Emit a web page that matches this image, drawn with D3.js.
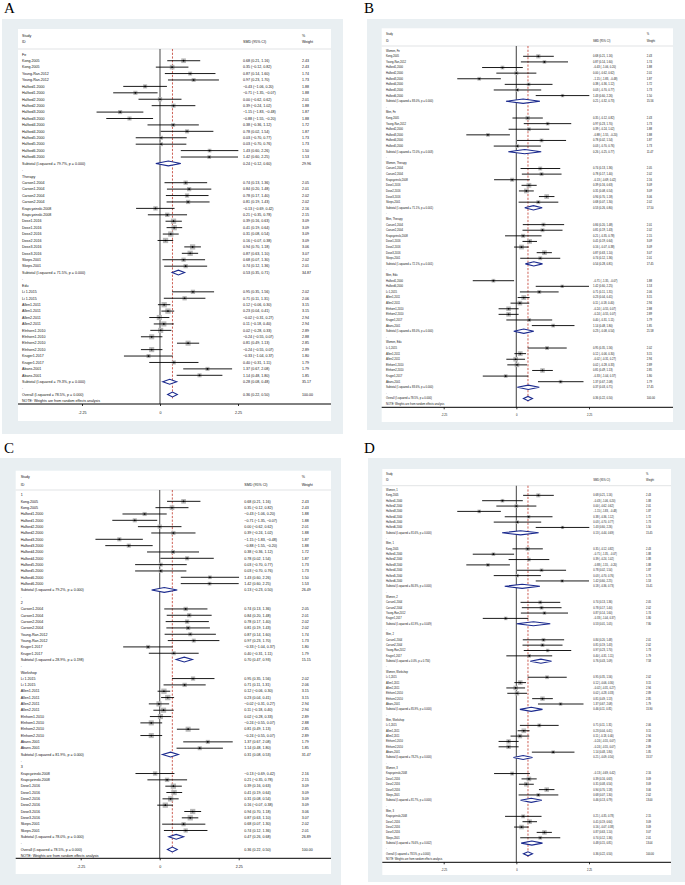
<!DOCTYPE html>
<html><head><meta charset="utf-8">
<script src="https://cdn.jsdelivr.net/npm/d3@7"></script>
<style>body{margin:0;background:#fff}svg{display:block}text{font-family:"Liberation Sans",Arial,sans-serif}</style>
</head><body>
<script>
// ---------- data ----------
const tickValues = [-2.25, 0, 2.25];
const tickLabels = ["-2.25", "0", "2.25"];
const overall = [0.36, 0.22, 0.50, 100.00, "78.5%", "0.000"];

// study tuples: [label, ES, lower, upper, weight]
const A_groups = ["Fe", "Therapy", "Edu"];
const A_Fe = [
  ["Kong.2005",0.68,0.21,1.16,2.43],["Kong.2005",0.35,-0.12,0.82,2.43],
  ["Young-Ran.2012",0.87,0.14,1.60,1.74],["Young-Ran.2012",0.97,0.23,1.70,1.73],
  ["Halford1.2000",-0.43,-1.06,0.20,1.88],["Halford1.2000",-0.71,-1.35,-0.07,1.88],
  ["Halford2.2000",0.00,-0.62,0.62,2.01],["Halford2.2000",0.39,-0.24,1.02,1.88],
  ["Halford3.2000",-1.15,-1.83,-0.48,1.87],["Halford3.2000",-0.88,-1.55,-0.20,1.88],
  ["Halford4.2000",0.38,-0.36,1.12,1.72],["Halford4.2000",0.78,0.02,1.54,1.87],
  ["Halford5.2000",0.03,-0.70,0.77,1.73],["Halford5.2000",0.03,-0.70,0.76,1.73],
  ["Halford6.2000",1.43,0.60,2.26,1.50],["Halford6.2000",1.42,0.60,2.25,1.53]];
const A_Therapy = [
  ["Carson1.2004",0.74,0.13,1.36,2.05],["Carson1.2004",0.84,0.20,1.48,2.01],
  ["Carson2.2004",0.78,0.17,1.40,2.02],["Carson2.2004",0.81,0.19,1.43,2.02],
  ["Krapcyzinski.2008",-0.13,-0.69,0.42,2.16],["Krapcyzinski.2008",0.21,-0.35,0.78,2.15],
  ["Dose1.2016",0.39,0.16,0.63,3.09],["Dose1.2016",0.41,0.19,0.64,3.09],
  ["Dose2.2016",0.31,0.08,0.54,3.09],["Dose2.2016",0.16,-0.07,0.38,3.09],
  ["Dose3.2016",0.94,0.70,1.18,3.06],["Dose3.2016",0.87,0.63,1.10,3.07],
  ["Skeps.2001",0.68,0.07,1.30,2.02],["Skeps.2001",0.74,0.12,1.36,2.01]];
const A_Edu = [
  ["Li 1.2015",0.95,0.35,1.56,2.02],["Li 1.2015",0.71,0.11,1.31,2.06],
  ["Allen1.2011",0.12,-0.06,0.30,3.15],["Allen1.2011",0.23,0.04,0.41,3.15],
  ["Allen2.2011",-0.02,-0.31,0.27,2.94],["Allen2.2011",0.11,-0.18,0.40,2.94],
  ["Elnhorn1.2010",0.02,-0.28,0.33,2.89],["Elnhorn1.2010",-0.24,-0.55,0.07,2.88],
  ["Elnhorn2.2010",0.81,0.49,1.13,2.85],["Elnhorn2.2010",-0.24,-0.55,0.07,2.89],
  ["Kruger1.2017",-0.33,-1.04,0.37,1.80],["Kruger1.2017",0.40,-0.31,1.11,1.79],
  ["Abans.2001",1.37,0.67,2.08,1.79],["Abans.2001",1.14,0.48,1.80,1.85]];
// subtotal tuples: [ES, lower, upper, weight, I-squared, p]
const A_subtotals = [[0.24,-0.12,0.60,29.96,"79.7%","0.000"],[0.53,0.35,0.71,34.87,"71.5%","0.000"],[0.28,0.08,0.48,35.17,"79.3%","0.000"]];

const B_groups = ["Women, Fe", "Men, Fe", "Women, Therapy", "Men, Therapy", "Men, Edu", "Women, Edu"];
const B_WomenFe = [["Kong,2005",0.68,0.21,1.16,2.43],["Young-Ran,2012",0.87,0.14,1.60,1.74],["Halford1,2000",-0.43,-1.06,0.20,1.88],
  ["Halford2,2000",0.00,-0.62,0.62,2.01],["Halford3,2000",-1.15,-1.83,-0.48,1.87],["Halford4,2000",0.38,-0.36,1.12,1.72],
  ["Halford5,2000",0.03,-0.70,0.77,1.73],["Halford6,2000",1.43,0.60,2.26,1.50]];
const B_MenFe = [["Kong,2005",0.35,-0.12,0.82,2.43],["Young-Ran,2012",0.97,0.23,1.70,1.73],["Halford2,2000",0.39,-0.24,1.02,1.88],
  ["Halford3,2000",-0.88,-1.55,-0.20,1.88],["Halford4,2000",0.78,0.02,1.54,1.87],["Halford5,2000",0.03,-0.70,0.76,1.73]];
const B_WomenTherapy = [["Carson1,2004",0.74,0.13,1.36,2.05],["Carson2,2004",0.78,0.17,1.40,2.02],["Krapcyzinski,2008",-0.13,-0.69,0.42,2.16],
  ["Dose1,2016",0.39,0.16,0.63,3.09],["Dose2,2016",0.31,0.08,0.54,3.09],["Dose3,2016",0.94,0.70,1.18,3.06],["Skeps,2001",0.68,0.07,1.30,2.02]];
const B_MenTherapy = [["Carson1,2004",0.84,0.20,1.48,2.01],["Carson2,2004",0.81,0.19,1.43,2.02],["Krapcyzinski,2008",0.21,-0.35,0.78,2.15],
  ["Dose1,2016",0.41,0.19,0.64,3.09],["Dose2,2016",0.16,-0.07,0.38,3.09],["Dose3,2016",0.87,0.63,1.10,3.07],["Skeps,2001",0.74,0.12,1.36,2.01]];
const B_MenEdu = [["Halford1,2000",-0.71,-1.35,-0.07,1.88],["Halford6,2000",1.42,0.60,2.25,1.53],["Li 1,2015",0.71,0.11,1.31,2.06],
  ["Allen1,2011",0.23,0.04,0.41,3.15],["Allen2,2011",0.11,-0.18,0.40,2.94],["Elnhorn1,2010",-0.24,-0.55,0.07,2.88],
  ["Elnhorn2,2010",-0.24,-0.55,0.07,2.89],["Kruger1,2017",0.40,-0.31,1.11,1.79],["Abans,2001",1.14,0.48,1.80,1.85]];
const B_WomenEdu = [["Li 1,2015",0.95,0.35,1.56,2.02],["Allen1,2011",0.12,-0.06,0.30,3.15],["Allen2,2011",-0.02,-0.31,0.27,2.94],
  ["Elnhorn1,2010",0.02,-0.28,0.33,2.89],["Elnhorn2,2010",0.81,0.49,1.13,2.85],["Kruger1,2017",-0.33,-1.04,0.37,1.80],["Abans,2001",1.37,0.67,2.08,1.79]];
const B_subtotals = [[0.21,-0.32,0.73,15.56,"83.0%","0.000"],[0.26,-0.25,0.77,11.47,"72.0%","0.003"],[0.53,0.26,0.80,17.50,"71.1%","0.001"],
  [0.54,0.28,0.81,17.45,"72.1%","0.001"],[0.23,-0.08,0.54,21.58,"83.0%","0.000"],[0.37,0.03,0.71,17.45,"83.6%","0.000"]];

const C_groups = ["1", "2", "Workshop", "3"];
const C_1 = A_Fe.filter(d => !d[0].startsWith("Young"));
const C_2 = [["Carson1.2004",0.74,0.13,1.36,2.05],["Carson1.2004",0.84,0.20,1.48,2.01],["Carson2.2004",0.78,0.17,1.40,2.02],["Carson2.2004",0.81,0.19,1.43,2.02],
  ["Young-Ran.2012",0.87,0.14,1.60,1.74],["Young-Ran.2012",0.97,0.23,1.70,1.73],["Kruger1.2017",-0.33,-1.04,0.37,1.80],["Kruger1.2017",0.40,-0.31,1.11,1.79]];
const C_Workshop = A_Edu.filter(d => !d[0].startsWith("Kruger"));
const C_3 = A_Therapy.filter(d => !d[0].startsWith("Carson"));
const C_subtotals = [[0.13,-0.23,0.50,26.49,"79.2%","0.000"],[0.70,0.47,0.93,15.15,"28.9%","0.198"],[0.31,0.08,0.53,31.47,"81.9%","0.000"],[0.47,0.26,0.68,26.89,"78.0%","0.000"]];

const D_groups = ["Women, 1", "Men, 1", "Women, 2", "Men, 2", "Women, Workshop", "Men, Workshop", "Women, 3", "Men, 3"];
const D_Women1 = B_WomenFe.filter(d => !d[0].startsWith("Young"));
const D_Men1 = [["Kong,2005",0.35,-0.12,0.82,2.43],["Halford1,2000",-0.71,-1.35,-0.07,1.88],["Halford2,2000",0.39,-0.24,1.02,1.88],
  ["Halford3,2000",-0.88,-1.55,-0.20,1.88],["Halford4,2000",0.78,0.02,1.54,1.87],["Halford5,2000",0.03,-0.70,0.76,1.73],["Halford6,2000",1.42,0.60,2.25,1.53]];
const D_Women2 = [["Carson1,2004",0.74,0.13,1.36,2.05],["Carson2,2004",0.78,0.17,1.40,2.02],["Young-Ran,2012",0.87,0.14,1.60,1.74],["Kruger1,2017",-0.33,-1.04,0.37,1.80]];
const D_Men2 = [["Carson1,2004",0.84,0.20,1.48,2.01],["Carson2,2004",0.81,0.19,1.43,2.02],["Young-Ran,2012",0.97,0.23,1.70,1.73],["Kruger1,2017",0.40,-0.31,1.11,1.79]];
const D_WomenWorkshop = B_WomenEdu.filter(d => !d[0].startsWith("Kruger"));
const D_MenWorkshop = B_MenEdu.filter(d => !d[0].startsWith("Kruger") && !d[0].startsWith("Halford"));
const D_Women3 = B_WomenTherapy.filter(d => !d[0].startsWith("Carson"));
const D_Men3 = B_MenTherapy.filter(d => !d[0].startsWith("Carson"));
const D_subtotals = [[0.13,-0.44,0.69,15.45,"81.6%","0.000"],[0.18,-0.36,0.73,15.41,"80.3%","0.000"],[0.53,0.01,1.05,7.80,"61.9%","0.049"],
  [0.76,0.43,1.09,7.58,"0.0%","0.734"],[0.46,0.11,0.81,15.90,"85.9%","0.000"],[0.21,-0.09,0.50,15.57,"78.2%","0.000"],
  [0.46,0.13,0.79,13.00,"81.7%","0.000"],[0.48,0.15,0.81,13.04,"76.6%","0.002"]];

// ---------- drawing ----------
const svg = d3.select("body").append("svg").attr("width", 685).attr("height", 885);
const f2 = d3.format(".2f");

function buildRows(groups, lists, subs) {
  const rows = [];
  groups.forEach((g, i) => {
    rows.push({type: "group", label: g});
    lists[i].forEach(s => rows.push({type: "study", label: s[0], es: s[1], lo: s[2], hi: s[3], w: s[4]}));
    const t = subs[i];
    rows.push({type: "sub", label: `Subtotal  (I-squared = ${t[4]}, p = ${t[5]})`, es: t[0], lo: t[1], hi: t[2], w: t[3]});
    rows.push({type: "blank", label: "."});
  });
  rows.push({type: "sub", label: `Overall  (I-squared = ${overall[4]}, p = ${overall[5]})`, es: overall[0], lo: overall[1], hi: overall[2], w: overall[3], overall: true});
  rows.push({type: "note", label: "NOTE: Weights are from random effects analysis"});
  return rows;
}

function drawPanel(p) {
  const g = svg.append("g");
  g.append("text").attr("x", p.letterX).attr("y", p.letterY).text(p.letter)
    .style("font-family", "'Liberation Serif','Times New Roman',serif").style("font-size", "15px");
  g.append("rect").attr("x", p.gray[0]).attr("y", p.gray[1]).attr("width", p.gray[2] - p.gray[0]).attr("height", p.gray[3] - p.gray[1]).attr("fill", "#e9eff2");
  g.append("rect").attr("x", p.white[0]).attr("y", p.white[1]).attr("width", p.white[2] - p.white[0]).attr("height", p.white[3] - p.white[1]).attr("fill", "#fff");
  const x = d3.scaleLinear().domain([-2.25, 2.25]).range(p.xr);
  const rows = p.rows;
  const y = d3.scaleLinear().domain([0, rows.length - 1]).range([p.firstRow, p.firstRow + p.rowH * (rows.length - 1)]);
  const fs = p.fs + "px";
  const T = (xx, yy, s) => g.append("text").attr("x", xx).attr("y", yy).attr("dy", "0.35em").text(s).style("font-size", fs).attr("fill", "#111");
  // header
  T(p.labelX, p.studyY, "Study"); T(p.labelX, p.idY, "ID");
  T(p.esX, p.idY, "SMD (95% CI)"); T(p.wX, p.studyY, "%"); T(p.wX, p.idY, "Weight");
  g.append("line").attr("x1", p.white[0]).attr("x2", p.white[2]).attr("y1", p.headY).attr("y2", p.headY).attr("stroke", "#d9dcde").attr("stroke-width", 0.8);
  const overallIdx = rows.findIndex(r => r.overall);
  // zero line
  g.append("line").attr("x1", x(0)).attr("x2", x(0)).attr("y1", p.headY).attr("y2", p.axisY).attr("stroke", p.zeroCol).attr("stroke-width", p.zeroW);
  // overall dashed line
  g.append("line").attr("x1", x(overall[0])).attr("x2", x(overall[0])).attr("y1", p.headY).attr("y2", y(overallIdx) + p.rowH * 0.6)
    .attr("stroke", "#c0392b").attr("stroke-width", 0.8).attr("stroke-dasharray", "2.2,1.5");
  rows.forEach((r, i) => {
    const yy = y(i);
    T(p.labelX, yy, r.label);
    if (r.type === "study") {
      const side = p.sq * Math.sqrt(r.w);
      g.append("rect").attr("x", x(r.es) - side / 2).attr("y", yy - side / 2).attr("width", side).attr("height", side).attr("fill", "#b9b9b9");
      g.append("line").attr("x1", x(r.lo)).attr("x2", x(r.hi)).attr("y1", yy).attr("y2", yy).attr("stroke", "#000").attr("stroke-width", 0.9);
      g.append("circle").attr("cx", x(r.es)).attr("cy", yy).attr("r", 0.85).attr("fill", "#000");
    }
    if (r.type === "sub") {
      const h = p.rowH * 0.38;
      g.append("path").attr("d", `M${x(r.lo)},${yy}L${x(r.es)},${yy - h}L${x(r.hi)},${yy}L${x(r.es)},${yy + h}Z`)
        .attr("fill", "#fff").attr("stroke", "#1b2a8e").attr("stroke-width", 1.1);
    }
    if (r.type === "study" || r.type === "sub") {
      T(p.esX, yy, `${f2(r.es)} (${f2(r.lo)}, ${f2(r.hi)})`);
      T(p.wX, yy, f2(r.w));
    }
  });
  // axis
  const ax = g.append("g").attr("transform", `translate(0,${p.axisY})`)
    .call(d3.axisBottom(x).tickValues(tickValues).tickFormat((d, i) => tickLabels[i]).tickSize(2).tickPadding(p.tickPad));
  ax.select(".domain").attr("d", `M${p.white[0]},0H${p.white[2]}`).attr("stroke", "#000").attr("stroke-width", 1);
  ax.selectAll(".tick line").attr("stroke", "#000").attr("stroke-width", 0.8);
  ax.selectAll(".tick text").style("font-size", fs).style("font-family", "'Liberation Sans',Arial,sans-serif").attr("fill", "#111");
}

drawPanel({letter: "A", letterX: 4, letterY: 13, gray: [2, 19, 343, 434], white: [18, 29, 331, 421], xr: [82, 238],
  rows: buildRows(A_groups, [A_Fe, A_Therapy, A_Edu], A_subtotals), firstRow: 54.3, rowH: 6.42, studyY: 35.7, idY: 42, headY: 49,
  axisY: 404, tickPad: 5, labelX: 22, esX: 243, wX: 302, fs: 3.6, sq: 3.0, zeroCol: "#555", zeroW: 1.1});
drawPanel({letter: "B", letterX: 364, letterY: 13, gray: [367, 19, 685, 430], white: [381.7, 28.3, 673, 422], xr: [443.7, 589],
  rows: buildRows(B_groups, [B_WomenFe, B_MenFe, B_WomenTherapy, B_MenTherapy, B_MenEdu, B_WomenEdu], B_subtotals),
  firstRow: 50.7, rowH: 5.61, studyY: 34, idY: 40.7, headY: 46, axisY: 407.3, tickPad: 5, labelX: 386, esX: 593, wX: 646.7,
  fs: 2.7, sq: 2.7, zeroCol: "#6a6a6a", zeroW: 1.3});
drawPanel({letter: "C", letterX: 4, letterY: 453, gray: [0, 458, 341, 885], white: [15.7, 470.7, 331, 874], xr: [80.7, 238.7],
  rows: buildRows(C_groups, [C_1, C_2, C_Workshop, C_3], C_subtotals), firstRow: 495, rowH: 6.33, studyY: 476.7, idY: 484.3, headY: 490,
  axisY: 858.3, tickPad: 5, labelX: 20.7, esX: 244.3, wX: 301.7, fs: 3.6, sq: 3.0, zeroCol: "#555", zeroW: 1.1});
drawPanel({letter: "D", letterX: 364, letterY: 453, gray: [368, 458, 685, 882], white: [382.3, 469, 671, 875], xr: [443.7, 589],
  rows: buildRows(D_groups, [D_Women1, D_Men1, D_Women2, D_Men2, D_WomenWorkshop, D_MenWorkshop, D_Women3, D_Men3], D_subtotals),
  firstRow: 490, rowH: 5.35, studyY: 474.3, idY: 480, headY: 485.7, axisY: 862.3, tickPad: 5, labelX: 386, esX: 593.3, wX: 646,
  fs: 2.6, sq: 2.6, zeroCol: "#555", zeroW: 1.1});
</script>
</body></html>
